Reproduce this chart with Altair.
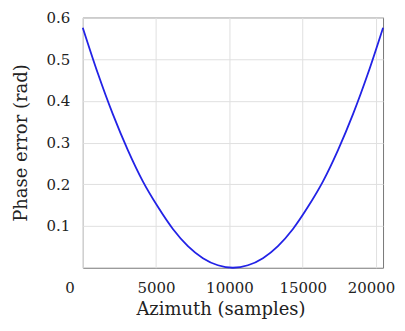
import altair as alt
import pandas as pd

azimuth = [0, 1024, 2048, 3072, 4096, 5120, 6144, 7168, 8192, 9216, 10240,
           11264, 12288, 13312, 14336, 15360, 16384, 17408, 18432, 19456, 20480]
phase_error = [0.575, 0.466, 0.368, 0.282, 0.207, 0.146, 0.093, 0.052, 0.023, 0.006, 0.0,
               0.006, 0.023, 0.052, 0.093, 0.146, 0.207, 0.282, 0.368, 0.466, 0.575]
x_ticks = [0, 5000, 10000, 15000, 20000]
y_ticks = [0.1, 0.2, 0.3, 0.4, 0.5, 0.6]

df = pd.DataFrame({"x": azimuth, "y": phase_error})
FONT = "DejaVu Serif"

chart = alt.Chart(df).mark_line(color="#2222e6", strokeWidth=1.8, interpolate="monotone").encode(
    x=alt.X("x:Q", scale=alt.Scale(domain=[0, 20480], nice=False, zero=False),
            axis=alt.Axis(values=x_ticks, title="Azimuth (samples)", format="d",
                          labelOffset={"condition": [
                              {"test": "datum.value == 0", "value": -18},
                              {"test": "datum.value == 20000", "value": -5}], "value": 0},
                          labelPadding=13, titlePadding=5, titleX=138)),
    y=alt.Y("y:Q", scale=alt.Scale(domain=[0, 0.6], nice=False),
            axis=alt.Axis(values=y_ticks, title="Phase error (rad)", format=".1f",
                          labelPadding=13, titlePadding=16)),
).properties(
    width=301, height=251,
    autosize=alt.AutoSizeParams(type="none"),
    padding={"left": 75, "top": 9, "right": 14, "bottom": 54},
).configure_axis(
    labelFont=FONT, titleFont=FONT, labelFontSize=15, titleFontSize=18,
    labelColor="#222", titleColor="#222", titleFontWeight="normal",
    gridColor="#e0e0e0", gridWidth=1, domain=False, ticks=False,
).configure_view(stroke="#777", strokeWidth=1)

chart.save("out.html", embed_options={"renderer": "svg", "actions": False})
